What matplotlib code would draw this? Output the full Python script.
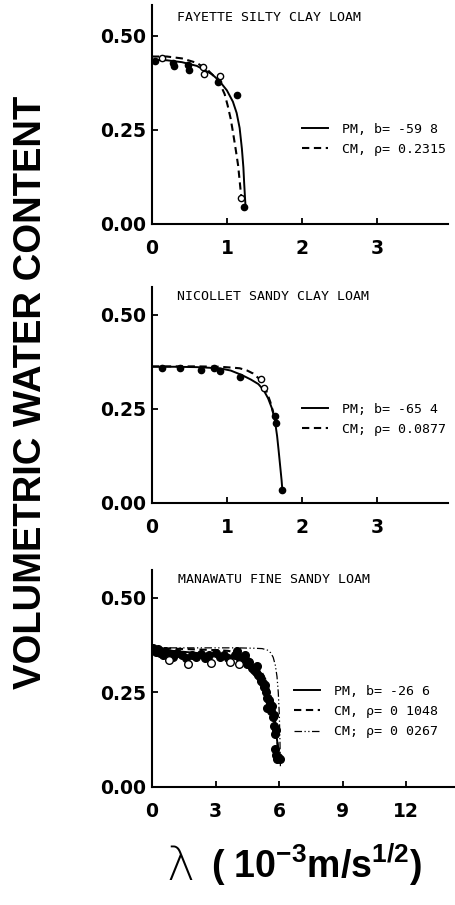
import matplotlib
matplotlib.use("Agg")
import matplotlib.pyplot as plt

# data
# --- Fayette silty clay loam ---
fay_x_fill = [0.04, 0.28, 0.30, 0.48, 0.50, 0.88, 1.13, 1.23]
fay_y_fill = [0.434, 0.427, 0.420, 0.423, 0.410, 0.378, 0.343, 0.046]
fay_x_open = [0.13, 0.68, 0.70, 0.91, 1.19]
fay_y_open = [0.441, 0.418, 0.399, 0.394, 0.069]
fay_pm_x = [0.0, 0.2, 0.4, 0.6, 0.8, 0.9, 1.0, 1.08, 1.13, 1.17, 1.20, 1.22, 1.23, 1.24, 1.25]
fay_pm_y = [0.436, 0.435, 0.430, 0.420, 0.398, 0.380, 0.355, 0.325, 0.295, 0.255, 0.200, 0.150, 0.110, 0.075, 0.042]
fay_cm_x = [0.0, 0.2, 0.4, 0.6, 0.75, 0.85, 0.91, 0.97, 1.01, 1.05, 1.08, 1.12, 1.15, 1.17, 1.19, 1.20]
fay_cm_y = [0.445, 0.445, 0.440, 0.428, 0.408, 0.388, 0.372, 0.345, 0.315, 0.280, 0.245, 0.195, 0.155, 0.115, 0.075, 0.048]

# --- Nicollet sandy clay loam ---
nic_x_fill = [0.13, 0.38, 0.65, 0.83, 0.91, 1.17, 1.64, 1.66, 1.73]
nic_y_fill = [0.360, 0.360, 0.354, 0.358, 0.352, 0.336, 0.230, 0.212, 0.035]
nic_x_open = [1.46, 1.49]
nic_y_open = [0.330, 0.306]
nic_pm_x = [0.0, 0.3, 0.6, 0.9, 1.05, 1.2, 1.32, 1.42, 1.49, 1.55, 1.60, 1.64, 1.67, 1.69, 1.71, 1.73, 1.74]
nic_pm_y = [0.362, 0.362, 0.361, 0.358, 0.352, 0.340, 0.328, 0.316, 0.300, 0.278, 0.252, 0.220, 0.178, 0.140, 0.100, 0.060, 0.035]
nic_cm_x = [0.0, 0.3, 0.6, 0.9, 1.05, 1.17, 1.27, 1.35, 1.42, 1.48, 1.53, 1.58, 1.62]
nic_cm_y = [0.363, 0.363, 0.363, 0.362, 0.360, 0.358, 0.352, 0.344, 0.332, 0.316, 0.296, 0.268, 0.240]

# --- Manawatu fine sandy loam ---
man_x_fill = [0.05, 0.10, 0.20, 0.30, 0.40, 0.50, 0.60, 0.90, 1.00, 1.20, 1.40, 1.60, 1.90, 2.10,
              2.30, 2.50, 2.70, 3.00, 3.20, 3.40, 3.60, 3.90, 4.00, 4.10, 4.20, 4.35, 4.50, 4.60,
              4.70, 4.80, 4.90, 5.00, 5.10, 5.15, 5.25, 5.30, 5.35, 5.40, 5.45, 5.50, 5.45, 5.55,
              5.60, 5.65, 5.70, 5.75, 5.75, 5.80, 5.85, 5.80, 5.85, 5.95, 6.05, 5.90, 4.40, 4.95]
man_y_fill = [0.368, 0.362, 0.358, 0.365, 0.355, 0.350, 0.360, 0.352, 0.345, 0.355, 0.348, 0.340, 0.350, 0.345,
              0.352, 0.340, 0.350, 0.355, 0.345, 0.350, 0.340, 0.350, 0.360, 0.345, 0.340, 0.335, 0.325, 0.330,
              0.315, 0.310, 0.305, 0.295, 0.290, 0.280, 0.275, 0.265, 0.270, 0.250, 0.235, 0.230, 0.210, 0.220,
              0.200, 0.215, 0.185, 0.190, 0.160, 0.140, 0.150, 0.100, 0.085, 0.080, 0.075, 0.075, 0.350, 0.320]
man_x_open = [0.80, 1.70, 2.80, 3.70, 4.10]
man_y_open = [0.336, 0.325, 0.327, 0.330, 0.325]
man_pm_x = [0.0, 1.0, 2.0, 3.0, 4.0, 4.4, 4.7, 5.0, 5.2, 5.4, 5.55, 5.7, 5.8, 5.9, 5.97, 6.02]
man_pm_y = [0.368, 0.360, 0.355, 0.350, 0.340, 0.330, 0.316, 0.293, 0.272, 0.248, 0.225, 0.195, 0.165, 0.125, 0.095, 0.068]
man_cm1_x = [0.0, 1.0, 2.0, 3.0, 3.6, 4.0, 4.4, 4.8, 5.1, 5.35, 5.55, 5.7, 5.82, 5.92, 5.98]
man_cm1_y = [0.368, 0.366, 0.364, 0.362, 0.360, 0.355, 0.347, 0.332, 0.312, 0.285, 0.252, 0.215, 0.170, 0.120, 0.075]
man_cm2_x = [0.0, 1.0, 2.0, 3.0, 4.0, 4.8, 5.2, 5.45, 5.6, 5.72, 5.82, 5.9, 5.96, 6.01, 6.04, 6.06]
man_cm2_y = [0.368, 0.368, 0.368, 0.368, 0.368, 0.367, 0.366, 0.362, 0.355, 0.343, 0.322, 0.292, 0.250, 0.190, 0.120, 0.055]

titles = ["FAYETTE SILTY CLAY LOAM", "NICOLLET SANDY CLAY LOAM", "MANAWATU FINE SANDY LOAM"]
legend_labels = [["PM, b= -59 8", "CM, \u03c1= 0.2315"],
                 ["PM; b= -65 4", "CM; \u03c1= 0.0877"],
                 ["PM, b= -26 6", "CM, \u03c1= 0 1048", "CM; \u03c1= 0 0267"]]
xticks = [[0, 1, 2, 3], [0, 1, 2, 3], [0, 3, 6, 9, 12]]
yticks = [0.0, 0.25, 0.5]
ytick_labels = ["0.00", "0.25", "0.50"]

fig = plt.figure(figsize=(4.56, 9.05), dpi=100)

rects = [[0.3333, 0.7525, 0.649, 0.242],
         [0.3333, 0.4442, 0.649, 0.2387],
         [0.3333, 0.1304, 0.6645, 0.2398]]
xmax = [3.95, 3.95, 14.3]
ymax = [0.582, 0.574, 0.574]
msizes = [4.5, 4.5, 5.5]

small = dict(family="DejaVu Sans Mono", size=9.5)
dashed = (3.5, 2.2)
dashdot = (6, 2, 1, 2, 1, 2)

panels = [
    (fay_x_fill, fay_y_fill, fay_x_open, fay_y_open, [(fay_pm_x, fay_pm_y), (fay_cm_x, fay_cm_y)]),
    (nic_x_fill, nic_y_fill, nic_x_open, nic_y_open, [(nic_pm_x, nic_pm_y), (nic_cm_x, nic_cm_y)]),
    (man_x_fill, man_y_fill, man_x_open, man_y_open, [(man_pm_x, man_pm_y), (man_cm1_x, man_cm1_y), (man_cm2_x, man_cm2_y)]),
]
title_pos = [(0.084, 0.945), (0.083, 0.958), (0.086, 0.954)]
leg_pos = [(0.507, 0.386), (0.507, 0.387), (0.469, 0.348)]

for i, (xf, yf, xo, yo, curves) in enumerate(panels):
    ax = fig.add_axes(rects[i])
    styles = [dict(ls="-", lw=1.4), dict(ls="--", lw=1.5, dashes=dashed), dict(ls="-.", lw=0.9, dashes=dashdot)]
    handles = []
    for (cx, cy), st in zip(curves, styles):
        ln, = ax.plot(cx, cy, color="black", **st)
        handles.append(ln)
    ax.plot(xf, yf, "o", ms=msizes[i], color="black", mfc="black", mew=1.0)
    ax.plot(xo, yo, "o", ms=msizes[i], color="black", mfc="white", mew=1.0)

    ax.set_xlim(0, xmax[i])
    ax.set_ylim(0, ymax[i])
    ax.set_xticks(xticks[i])
    ax.set_xticklabels([str(t) for t in xticks[i]])
    ax.set_yticks(yticks)
    ax.set_yticklabels(ytick_labels)
    for s in ["top", "right"]:
        ax.spines[s].set_visible(False)
    for s in ["left", "bottom"]:
        ax.spines[s].set_linewidth(1.5)
    ax.tick_params(direction="in", length=4, width=1.3)
    ax.tick_params(axis="x", pad=11)
    ax.tick_params(axis="y", pad=4)
    for lab in ax.get_xticklabels() + ax.get_yticklabels():
        lab.set_fontfamily("DejaVu Sans")
        lab.set_fontweight("bold")
        lab.set_fontsize(13.5)

    ax.text(title_pos[i][0], title_pos[i][1], titles[i], transform=ax.transAxes,
            ha="left", va="center", **small)

    ax.legend(handles, legend_labels[i], loc="center left", bbox_to_anchor=leg_pos[i],
              frameon=False, borderpad=0, borderaxespad=0, handlelength=2.0,
              handletextpad=1.0, labelspacing=0.55, prop=small)

fig.text(0.068, 0.566, "VOLUMETRIC WATER CONTENT", rotation=90, ha="center", va="center",
         family="Liberation Sans", fontweight="bold", fontsize=27.5)

plt.rcParams["mathtext.fontset"] = "custom"
plt.rcParams["mathtext.rm"] = "Liberation Sans:bold"
plt.rcParams["mathtext.default"] = "rm"
fig.text(0.366, 0.028, "\u03bb", ha="left", va="baseline", family="DejaVu Sans",
         fontsize=34, fontweight="light")
fig.text(0.462, 0.030, r"( 10$^{-3}$m/s$^{1/2}$)", ha="left", va="baseline",
         family="Liberation Sans", fontweight="bold", fontsize=27)

fig.savefig("out.png", dpi=100)
